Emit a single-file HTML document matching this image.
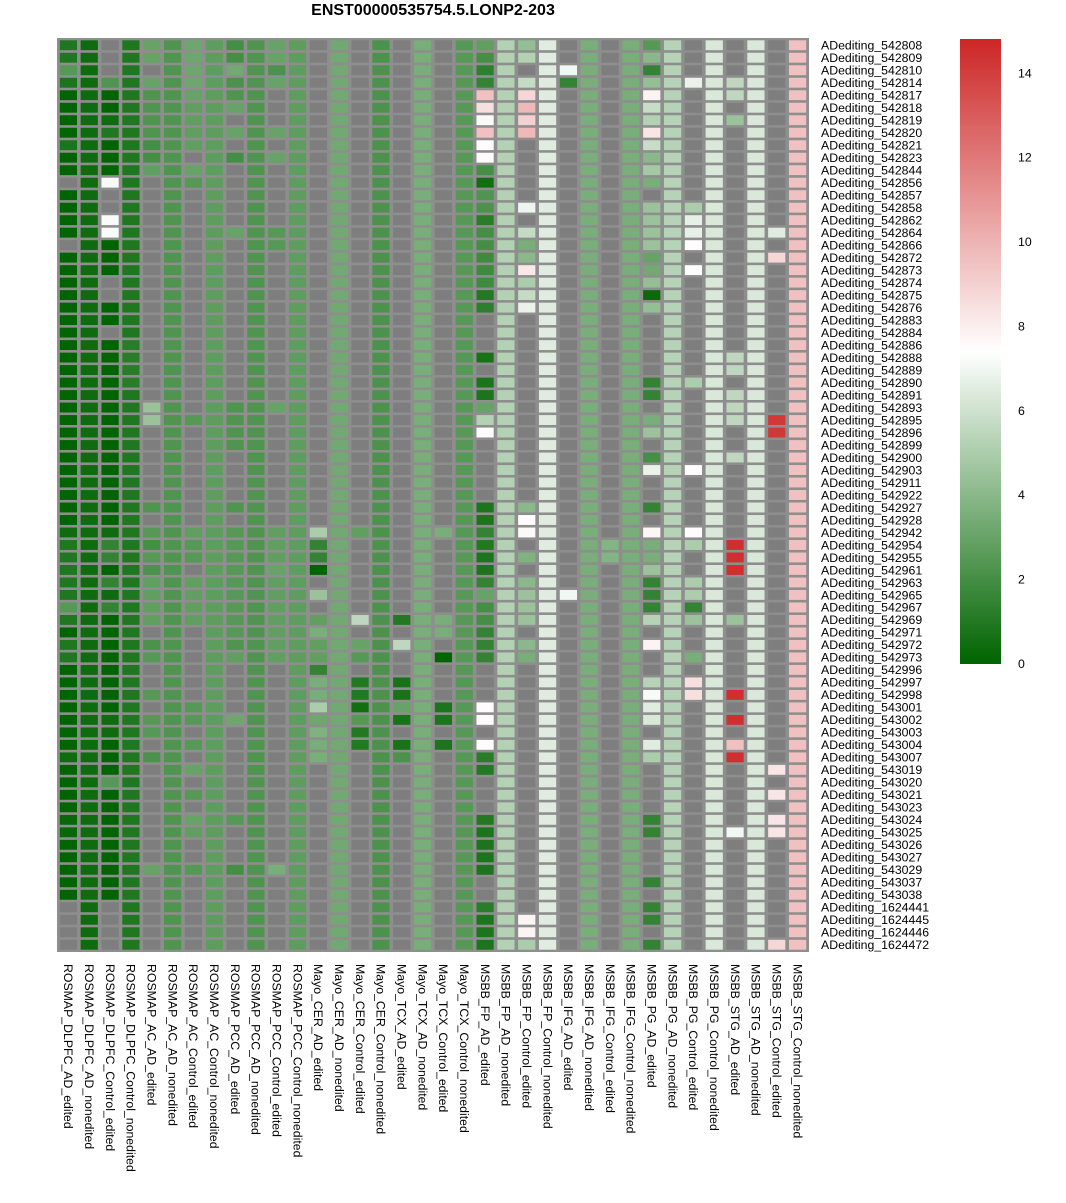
<!DOCTYPE html>
<html><head><meta charset="utf-8"><style>
html,body{margin:0;padding:0;background:#fff;}
svg{display:block;font-family:"Liberation Sans",sans-serif;}
</style></head><body>
<svg id="chart" width="1066" height="1203" viewBox="0 0 1066 1203" xmlns="http://www.w3.org/2000/svg">
<defs><linearGradient id="lg" x1="0" y1="1" x2="0" y2="0">
<stop offset="0" stop-color="#006400"/><stop offset="0.5" stop-color="#ffffff"/><stop offset="1" stop-color="#cd2626"/></linearGradient></defs>
<text x="433" y="15" text-anchor="middle" font-size="16" font-weight="bold">ENST00000535754.5.LONP2-203</text>
<rect x="57" y="38" width="752" height="914" fill="#8e8e8e"/>
<g id="cells"></g><g id="rowlabels"></g><g id="collabels"></g>
<rect x="960" y="39" width="41" height="625" fill="url(#lg)"/>
<g id="legendlabels"></g>
</svg>
<script>
const _ = null;
const rowLabels = ["542808","542809","542810","542814","542817","542818","542819","542820","542821","542823","542844","542856","542857","542858","542862","542864","542866","542872","542873","542874","542875","542876","542883","542884","542886","542888","542889","542890","542891","542893","542895","542896","542899","542900","542903","542911","542922","542927","542928","542942","542954","542955","542961","542963","542965","542967","542969","542971","542972","542973","542996","542997","542998","543001","543002","543003","543004","543007","543019","543020","543021","543023","543024","543025","543026","543027","543029","543037","543038","1624441","1624445","1624446","1624472"].map(s=>"ADediting_"+s);
const colLabels = ["ROSMAP_DLPFC_AD_edited","ROSMAP_DLPFC_AD_nonedited","ROSMAP_DLPFC_Control_edited","ROSMAP_DLPFC_Control_nonedited","ROSMAP_AC_AD_edited","ROSMAP_AC_AD_nonedited","ROSMAP_AC_Control_edited","ROSMAP_AC_Control_nonedited","ROSMAP_PCC_AD_edited","ROSMAP_PCC_AD_nonedited","ROSMAP_PCC_Control_edited","ROSMAP_PCC_Control_nonedited","Mayo_CER_AD_edited","Mayo_CER_AD_nonedited","Mayo_CER_Control_edited","Mayo_CER_Control_nonedited","Mayo_TCX_AD_edited","Mayo_TCX_AD_nonedited","Mayo_TCX_Control_edited","Mayo_TCX_Control_nonedited","MSBB_FP_AD_edited","MSBB_FP_AD_nonedited","MSBB_FP_Control_edited","MSBB_FP_Control_nonedited","MSBB_IFG_AD_edited","MSBB_IFG_AD_nonedited","MSBB_IFG_Control_edited","MSBB_IFG_Control_nonedited","MSBB_PG_AD_edited","MSBB_PG_AD_nonedited","MSBB_PG_Control_edited","MSBB_PG_Control_nonedited","MSBB_STG_AD_edited","MSBB_STG_AD_nonedited","MSBB_STG_Control_edited","MSBB_STG_Control_nonedited"];
const legendTicks = [0,2,4,6,8,10,12,14];
const scaleMax = 14.8;

const col00=[0.9,0.9,2.5,0.8,0,0,0,0,0.8,0, 0,_,0,0,0,0,_,0,0,0, 0,0,0,0,0,0,0,0,0,0, 0,0,0,0,0,0,0,0,0,0.4, 0.9,0.9,0.9,0.9,0.9,2.5,0.9,0,0.9,0.9, 0,0,0,0,0,0,0,0.4,0,0, 0,0,0.2,0.2,0,0,0,0,0,_, _,_,_];
const col01=[0.4,0.4,0.4,0.4,0.4,0.4,0.4,0.4,0.4,0.4, 0.4,0.4,0.4,0.4,0.4,0.4,0.4,0.4,0.4,0.4, 0.4,0.4,0.4,0.4,0.4,0.4,0.4,0.4,0.4,0.4, 0.4,0.4,0.4,0.4,0.4,0.4,0.4,0.4,0.4,0.4, 0.4,0.4,0.4,0.4,0.4,0.4,0.4,0.4,0.4,0.4, 0.4,0.4,0.4,0.4,0.4,0.4,0.4,0.4,0.4,0.4, 0.4,0.4,0.4,0.4,0.4,0.4,0.4,0.4,0.4,0.4, 0.4,0.4,0.4];
const col02=[_,_,_,2.3,0,0,0.4,0.9,0,0, 0,7.2,_,_,7.2,7.2,0,0,0,_, _,0,0,_,0,0,0,0,0,0, 0,0,0,0,0,0,0,0,0,0.4, 1.5,1.5,0,1.5,0.4,1.5,0,0,0,0, 0,0,0,0,0.4,0.4,0,0,0,2.5, 0,0,0,0,0,0,0,0,0,_, _,_,_];
const col03=[0.9,0.9,0.9,0.9,0.9,0.9,0.9,0.9,0.9,0.9, 0.9,0.9,0.9,0.9,0.9,0.9,0.9,0.9,0.9,0.9, 0.9,0.9,0.9,0.9,1.2,1.2,1.2,1.2,0.9,0.9, 0.9,0.9,0.9,0.9,0.9,0.9,0.9,0.9,0.9,0.9, 0.9,0.9,0.9,0.9,0.9,0.9,0.9,0.9,0.9,0.9, 0.9,0.9,0.9,0.9,0.9,0.9,0.9,0.9,0.9,0.9, 0.9,0.9,0.9,0.9,0.9,0.9,0.9,0.9,0.9,0.9, 0.9,0.9,0.9];
const col04=[3,3,_,3,2.3,2.3,2.3,2.3,2,2, 2.8,_,_,_,_,_,_,_,_,_, _,_,_,_,_,_,_,_,_,4.5, 4.5,_,_,_,_,_,_,2.3,_,2.5, 2,2.5,2.2,2.8,2.8,2.8,2.8,_,2.2,2.5, _,_,2.5,_,2.5,2.5,_,2.2,_,_, _,_,_,_,_,_,3,_,_,_, _,_,_];
const col05=[2.3,2.3,2.3,2.3,2.3,2.3,2.3,2.3,2.3,2.3, 2.3,2.3,2.3,2.3,2.3,2.3,2.3,2.3,2.3,2.3, 2.3,2.3,2.3,2.3,2.3,2.3,2.3,2.3,2.3,2.3, 2.3,2.3,2.3,2.3,2.3,2.3,2.3,2.3,2.3,2.3, 2.3,2.3,2.3,2.3,2.3,2.3,2.3,2.3,2.3,2.3, 2.3,2.3,2.3,2.3,2.3,2.3,2.3,2.3,2.3,2.3, 2.3,2.3,2.3,2.3,2.3,2.3,2.3,2.3,2.3,2.3, 2.3,2.3,2.3];
const col06=[3.2,3.2,3.2,3.2,3,2.8,2.8,2.8,2.8,_, 3,2.5,_,_,_,_,_,_,_,_, _,_,_,_,_,_,_,_,_,_, 2.5,_,_,_,_,_,_,_,_,2.8, 2.5,2.5,_,2.8,2.8,2.8,2.8,_,_,_, _,_,_,2.5,2.5,_,2.5,_,3,_, 2.5,_,3,2.8,_,_,2.5,_,_,_, _,_,_];
const col07=[2.7,2.7,2.7,2.7,2.7,2.7,2.7,2.7,2.7,2.7, 2.7,2.7,2.7,2.7,2.7,2.7,2.7,2.7,2.7,2.7, 2.7,2.7,2.7,2.7,2.7,2.7,2.7,2.7,2.7,2.7, 2.7,2.7,2.7,2.7,2.7,2.7,2.7,2.7,2.7,2.7, 2.7,2.7,2.7,2.7,2.7,2.7,2.7,2.7,2.7,2.7, 2.7,2.7,2.7,2.7,2.7,2.7,2.7,2.7,2.7,2.7, 2.7,2.7,2.7,2.7,2.7,2.7,2.7,2.7,2.7,2.7, 2.7,2.7,2.7];
const col08=[2,2,3.3,2.2,2.3,3,_,3,_,2, _,_,_,_,_,3,_,_,_,_, _,_,_,_,_,_,_,_,_,2.3, 2.3,2.3,2.3,_,_,_,_,2.3,_,2.5, 2.5,2.5,2.5,2.5,2.5,2.5,2.5,2.5,2.3,2.8, _,_,_,_,3.2,_,_,_,_,_, _,_,2.5,_,_,_,2,_,_,_, _,_,_];
const col09=[2.3,2.3,2.3,2.3,2.3,2.3,2.3,2.3,2.3,2.3, 2.3,2.3,2.3,2.3,2.3,2.3,2.3,2.3,2.3,2.3, 2.3,2.3,2.3,2.3,2.3,2.3,2.3,2.3,2.3,2.3, 2.3,2.3,2.3,2.3,2.3,2.3,2.3,2.3,2.3,2.3, 2.3,2.3,2.3,2.3,2.3,2.3,2.3,2.3,2.3,2.3, 2.3,2.3,2.3,2.3,2.3,2.3,2.3,2.3,2.3,2.3, 2.3,2.3,2.3,2.3,2.3,2.3,2.3,2.3,2.3,2.3, 2.3,2.3,2.3];
const col10=[3,3,2.2,3,_,_,_,3,_,3, _,_,_,_,_,2.5,2.5,_,_,_, _,_,_,_,_,_,_,_,_,3, _,_,_,_,_,_,_,_,_,2.8, 2.8,2.8,3,2.8,2.8,2.8,2.8,2.8,2.8,2.8, _,_,_,_,_,_,_,_,_,_, _,_,_,_,_,_,3.5,_,_,_, _,_,_];
const col11=[2.7,2.7,2.7,2.7,2.7,2.7,2.7,2.7,2.7,2.7, 2.7,2.7,2.7,2.7,2.7,2.7,2.7,2.7,2.7,2.7, 2.7,2.7,2.7,2.7,2.7,2.7,2.7,2.7,2.7,2.7, 2.7,2.7,2.7,2.7,2.7,2.7,2.7,2.7,2.7,2.7, 2.7,2.7,2.7,2.7,2.7,2.7,2.7,2.7,2.7,2.7, 2.7,2.7,2.7,2.7,2.7,2.7,2.7,2.7,2.7,2.7, 2.7,2.7,2.7,2.7,2.7,2.7,2.7,2.7,2.7,2.7, 2.7,2.7,2.7];
const col12=[_,_,_,_,_,_,_,_,_,_, _,_,_,_,_,_,_,_,_,_, _,_,_,_,_,_,_,_,_,_, _,_,_,_,_,_,_,_,_,5, 1.5,1.5,0,_,4.5,_,2.8,3.5,2.8,2.8, 1.5,3.5,3.5,5,3.2,3.7,3.5,3.5,_,_, _,_,_,_,_,_,_,_,_,_, _,_,_];
const col13=[3.3,3.3,3.3,3.3,3.3,3.3,3.3,3.3,3.3,3.3, 3.3,3.3,3.3,3.3,3.3,3.3,3.3,3.3,3.3,3.3, 3.3,3.3,3.3,3.3,3.3,3.3,3.3,3.3,3.3,3.3, 3.3,3.3,3.3,3.3,3.3,3.3,3.3,3.3,3.3,3.3, 3.3,3.3,3.3,3.3,3.3,3.3,3.3,3.3,3.3,3.3, 3.3,3.3,3.3,3.3,3.3,3.3,3.3,3.3,3.3,3.3, 3.3,3.3,3.3,3.3,3.3,3.3,3.3,3.3,3.3,3.3, 3.3,3.3,3.3];
const col14=[_,_,_,_,_,_,_,_,_,_, _,_,_,_,_,_,_,_,_,_, _,_,_,_,_,_,_,_,_,_, _,_,_,_,_,_,_,_,_,2.8, _,_,_,_,_,_,5.5,_,3,2.5, _,1,1,0.5,2.5,1,1,_,_,_, _,_,_,_,_,_,_,_,_,_, _,_,_];
const col15=[2.2,2.2,2.2,2.2,2.2,2.2,2.2,2.2,2.2,2.2, 2.2,2.2,2.2,2.2,2.2,2.2,2.2,2.2,2.2,2.2, 2.2,2.2,2.2,2.2,2.2,2.2,2.2,2.2,2.2,2.2, 2.2,2.2,2.2,2.2,2.2,2.2,2.2,2.2,2.2,2.2, 2.2,2.2,2.2,2.2,2.2,2.2,2.2,2.2,2.2,2.2, 2.2,2.2,2.2,2.2,2.2,2.2,2.2,2.2,2.2,2.2, 2.2,2.2,2.2,2.2,2.2,2.2,2.2,2.2,2.2,2.2, 2.2,2.2,2.2];
const col16=[_,_,_,_,_,_,_,_,_,_, _,_,_,_,_,_,_,_,_,_, _,_,_,_,_,_,_,_,_,_, _,_,_,_,_,_,_,_,_,_, _,_,_,_,_,_,1,_,5.5,_, _,0.7,0.7,3,0.7,_,0.7,2.2,_,_, _,_,_,_,_,_,_,_,_,_, _,_,_];
const col17=[3.5,3.5,3.5,3.5,3.5,3.5,3.5,3.5,3.5,3.5, 3.5,3.5,3.5,3.5,3.5,3.5,3.5,3.5,3.5,3.5, 3.5,3.5,3.5,3.5,3.5,3.5,3.5,3.5,3.5,3.5, 3.5,3.5,3.5,3.5,3.5,3.5,3.5,3.5,3.5,3.5, 3.5,3.5,3.5,3.5,3.5,3.5,3.5,3.5,3.5,3.5, 3.5,3.5,3.5,3.5,3.5,3.5,3.5,3.5,3.5,3.5, 3.5,3.5,3.5,3.5,3.5,3.5,3.5,3.5,3.5,3.5, 3.5,3.5,3.5];
const col18=[_,_,_,_,_,_,_,_,_,_, _,_,_,_,_,_,_,_,_,_, _,_,_,_,_,_,_,_,_,_, _,_,_,_,_,_,_,_,_,3.5, _,_,_,_,_,_,3.5,3.5,_,0, _,_,_,0.8,0.8,_,0.8,_,_,_, _,_,_,_,_,_,_,_,_,_, _,_,_];
const col19=[2.5,2.5,2.5,2.5,2.5,2.5,2.5,2.5,2.5,2.5, 2.5,2.5,2.5,2.5,2.5,2.5,2.5,2.5,2.5,2.5, 2.5,2.5,2.5,2.5,2.5,2.5,2.5,2.5,2.5,2.5, 2.5,2.5,2.5,2.5,2.5,2.5,2.5,2.5,2.5,2.5, 2.5,2.5,2.5,2.5,2.5,2.5,2.5,2.5,2.5,2.5, 2.5,2.5,2.5,2.5,2.5,2.5,2.5,2.5,2.5,2.5, 2.5,2.5,2.5,2.5,2.5,2.5,2.5,2.5,2.5,2.5, 2.5,2.5,2.5];
const col20=[2.8,2,1.3,1.5,9.5,8.5,7.2,9.5,7.5,7.5, 2,0.5,2.3,2.2,1.2,2,2,1.8,1.8,1.8, 1,1.3,_,_,_,0.7,_,0.8,0.8,3, 5.2,7.5,_,_,_,_,_,0.8,0.8,1.5, 1,0.8,0.8,1.5,3,2,2,1.5,1.5,1.5, _,_,_,7.5,7.5,_,7.5,1.2,1,_, _,_,1,0.8,0.8,0.8,0.8,_,_,1.2, 0.8,0.8,0.8];
const col21=[5.2,5.2,5.2,5.2,5.2,5.2,5.2,5.2,5.2,5.2, 5.2,5.2,5.2,5.2,5.2,5.2,5.2,5.2,5.2,5.2, 5.2,5.2,5.2,5.2,5.2,5.2,5.2,5.2,5.2,5.2, 5.2,5.2,5.2,5.2,5.2,5.2,5.2,5.2,5.2,5.2, 5.2,5.2,5.2,5.2,5.2,5.2,5.2,5.2,5.2,5.2, 5.2,5.2,5.2,5.2,5.2,5.2,5.2,5.2,5.2,5.2, 5.2,5.2,5.2,5.2,5.2,5.2,5.2,5.2,5.2,5.2, 5.2,5.2,5.2];
const col22=[4.3,5.2,_,5.7,8.8,9.8,9,9.8,_,_, _,_,_,6.9,_,5.7,3.5,4,8.2,5, 5.7,6.8,_,_,_,_,_,_,_,_, _,_,_,_,_,_,_,4,7.5,7.6, _,3.7,_,4,4.5,4.5,4.5,_,4,3.5, _,_,_,_,_,_,_,_,_,_, _,_,_,_,_,_,_,_,_,_, 7.8,7.8,5];
const col23=[6.5,6.5,6.5,6.5,6.5,6.5,6.5,6.5,6.5,6.5, 6.5,6.5,6.5,6.5,6.5,6.5,6.5,6.5,6.5,6.5, 6.5,6.5,6.5,6.5,6.5,6.5,6.5,6.5,6.5,6.5, 6.5,6.5,6.5,6.5,6.5,6.5,6.5,6.5,6.5,6.5, 6.5,6.5,6.5,6.5,6.5,6.5,6.5,6.5,6.5,6.5, 6.5,6.5,6.5,6.5,6.5,6.5,6.5,6.5,6.5,6.5, 6.5,6.5,6.5,6.5,6.5,6.5,6.5,6.5,6.5,6.5, 6.5,6.5,6.5];
const col24=[_,_,7,1.5,_,_,_,_,_,_, _,_,_,_,_,_,_,_,_,_, _,_,_,_,_,_,_,_,_,_, _,_,_,_,_,_,_,_,_,_, _,_,_,_,7,_,_,_,_,_, _,_,_,_,_,_,_,_,_,_, _,_,_,_,_,_,_,_,_,_, _,_,_];
const col25=[3.5,3.5,3.5,3.5,3.5,3.5,3.5,3.5,3.5,3.5, 3.5,3.5,3.5,3.5,3.5,3.5,3.5,3.5,3.5,3.5, 3.5,3.5,3.5,3.5,3.5,3.5,3.5,3.5,3.5,3.5, 3.5,3.5,3.5,3.5,3.5,3.5,3.5,3.5,3.5,3.5, 3.5,3.5,3.5,3.5,3.5,3.5,3.5,3.5,3.5,3.5, 3.5,3.5,3.5,3.5,3.5,3.5,3.5,3.5,3.5,3.5, 3.5,3.5,3.5,3.5,3.5,3.5,3.5,3.5,3.5,3.5, 3.5,3.5,3.5];
const col26=[_,_,_,_,_,_,_,_,_,_, _,_,_,_,_,_,_,_,_,_, _,_,_,_,_,_,_,_,_,_, _,_,_,_,_,_,_,_,_,_, 3.8,3.8,_,_,_,_,_,_,_,_, _,_,_,_,_,_,_,_,_,_, _,_,_,_,_,_,_,_,_,_, _,_,_];
const col27=[3.5,3.5,3.5,3.5,3.5,3.5,3.5,3.5,3.5,3.5, 3.5,3.5,3.5,3.5,3.5,3.5,3.5,3.5,3.5,3.5, 3.5,3.5,3.5,3.5,3.5,3.5,3.5,3.5,3.5,3.5, 3.5,3.5,3.5,3.5,3.5,3.5,3.5,3.5,3.5,3.5, 3.5,3.5,3.5,3.5,3.5,3.5,3.5,3.5,3.5,3.5, 3.5,3.5,3.5,3.5,3.5,3.5,3.5,3.5,3.5,3.5, 3.5,3.5,3.5,3.5,3.5,3.5,3.5,3.5,3.5,3.5, 3.5,3.5,3.5];
const col28=[2.5,4,1.5,4.3,7.8,5.8,5.2,8.3,5.8,4, 4.8,3.5,_,4.5,4.5,4.5,4.5,3,3.3,4.3, 0.3,4.3,_,_,_,_,_,1.5,1.5,_, 3.5,4.5,_,2,6.8,_,_,1.5,_,7.7, 3.5,3.5,4.5,1.5,1.5,1.5,5.3,_,7.8,_, _,5.3,7.2,6.5,6.3,_,6.5,5,_,_, _,_,1.5,1.5,_,_,_,1.5,_,1.5, 1.5,_,1.5];
const col29=[5.3,5.3,5.3,5.3,5.3,5.3,5.3,5.3,5.3,5.3, 5.3,5.3,5.3,5.3,5.3,5.3,5.3,5.3,5.3,5.3, 5.3,5.3,5.3,5.3,5.3,5.3,5.3,5.3,5.3,5.3, 5.3,5.3,5.3,5.3,5.3,5.3,5.3,5.3,5.3,5.3, 5.3,5.3,5.3,5.3,5.3,5.3,5.3,5.3,5.3,5.3, 5.3,5.3,5.3,5.3,5.3,5.3,5.3,5.3,5.3,5.3, 5.3,5.3,5.3,5.3,5.3,5.3,5.3,5.3,5.3,5.3, 5.3,5.3,5.3];
const col30=[_,_,_,6.8,_,_,_,_,_,_, _,_,_,5,6.7,6.7,7.5,_,7.3,_, _,_,_,_,_,_,_,5,_,_, _,_,_,_,7.5,_,_,_,_,7.5, 5,_,_,5,5,1.5,4.5,_,_,3.5, _,8.5,8.5,_,_,_,_,_,_,_, _,_,_,_,_,_,_,_,_,_, _,_,_];
const col31=[6.3,6.3,6.3,6.3,6.3,6.3,6.3,6.3,6.3,6.3, 6.3,6.3,6.3,6.3,6.3,6.3,6.3,6.3,6.3,6.3, 6.3,6.3,6.3,6.3,6.3,6.3,6.3,6.3,6.3,6.3, 6.3,6.3,6.3,6.3,6.3,6.3,6.3,6.3,6.3,6.3, 6.3,6.3,6.3,6.3,6.3,6.3,6.3,6.3,6.3,6.3, 6.3,6.3,6.3,6.3,6.3,6.3,6.3,6.3,6.3,6.3, 6.3,6.3,6.3,6.3,6.3,6.3,6.3,6.3,6.3,6.3, 6.3,6.3,6.3];
const col32=[_,_,_,5.5,5.5,_,4.5,_,_,_, _,_,_,_,_,_,_,_,_,_, _,_,_,_,_,5.5,5.5,_,5.5,5.5, 5.5,_,_,5.5,_,_,_,_,_,_, 14.5,14.5,14.5,_,_,_,4.5,_,_,_, _,_,14.5,_,14.5,_,9.5,14.5,_,_, _,_,_,7,_,_,_,_,_,_, _,_,_];
const col33=[6.3,6.3,6.3,6.3,6.3,6.3,6.3,6.3,6.3,6.3, 6.3,6.3,6.3,6.3,6.3,6.3,6.3,6.3,6.3,6.3, 6.3,6.3,6.3,6.3,6.3,6.3,6.3,6.3,6.3,6.3, 6.3,6.3,6.3,6.3,6.3,6.3,6.3,6.3,6.3,6.3, 6.3,6.3,6.3,6.3,6.3,6.3,6.3,6.3,6.3,6.3, 6.3,6.3,6.3,6.3,6.3,6.3,6.3,6.3,6.3,6.3, 6.3,6.3,6.3,6.3,6.3,6.3,6.3,6.3,6.3,6.3, 6.3,6.3,6.3];
const col34=[_,_,_,_,_,_,_,_,_,_, _,_,_,_,_,6.5,_,8.8,_,_, _,_,_,_,_,_,_,_,_,_, 14.2,14.2,_,_,_,_,_,_,_,_, _,_,_,_,_,_,_,_,_,_, _,_,_,_,_,_,_,_,8.3,_, 8.3,_,8.3,8.3,_,_,_,_,_,_, _,_,8.8];
const col35=[9.5,9.5,9.5,9.5,9.5,9.5,9.5,9.5,9.5,9.5, 9.5,9.5,9.5,9.5,9.5,9.5,9.5,9.5,9.5,9.5, 9.5,9.5,9.5,9.5,9.5,9.5,9.5,9.5,9.5,9.5, 9.5,9.5,9.5,9.5,9.5,9.5,9.5,9.5,9.5,9.5, 9.5,9.5,9.5,9.5,9.5,9.5,9.5,9.5,9.5,9.5, 9.5,9.5,9.5,9.5,9.5,9.5,9.5,9.5,9.5,9.5, 9.5,9.5,9.5,9.5,9.5,9.5,9.5,9.5,9.5,9.5, 9.5,9.5,9.5];
const columns=[col00,col01,col02,col03,col04,col05,col06,col07,col08,col09,col10,col11,col12,col13,col14,col15,col16,col17,col18,col19,col20,col21,col22,col23,col24,col25,col26,col27,col28,col29,col30,col31,col32,col33,col34,col35];

const NS="http://www.w3.org/2000/svg";
const X0=58,X1=808,Y0=39,Y1=951;
const cw=(X1-X0)/colLabels.length, rh=(Y1-Y0)/rowLabels.length;
const xScale=i=>X0+i*cw, yScale=j=>Y0+j*rh;
const legY=v=>663.5-(v/scaleMax)*624.5;
function color(v){
  if(v===null||v===undefined) return "#7e7e7e";
  const mid=scaleMax/2; let a,b,t;
  if(v<=mid){a=[0,100,0];b=[255,255,255];t=v/mid;} else {a=[255,255,255];b=[205,38,38];t=Math.min(1,(v-mid)/(scaleMax-mid));}
  const c=a.map((x,k)=>Math.round(x+(b[k]-x)*t));
  return `rgb(${c[0]},${c[1]},${c[2]})`;
}
const gc=document.getElementById('cells');
columns.forEach((col,i)=>{col.forEach((v,j)=>{
  const r=document.createElementNS(NS,'rect');
  r.setAttribute('x',(xScale(i)+1.8).toFixed(2));
  r.setAttribute('y',(yScale(j)+1.3).toFixed(2));
  r.setAttribute('width',(cw-3.6).toFixed(2));
  r.setAttribute('height',(rh-2.6).toFixed(2));
  r.setAttribute('fill',color(v));
  
  
  gc.appendChild(r);
});});
const gr=document.getElementById('rowlabels');
rowLabels.forEach((s,j)=>{
  const t=document.createElementNS(NS,'text');
  t.setAttribute('x',821);t.setAttribute('y',(yScale(j)+rh/2+4.3).toFixed(2));
  t.setAttribute('font-size','12.3');t.textContent=s;
  
  
  gr.appendChild(t);
});
const gcl=document.getElementById('collabels');
colLabels.forEach((s,i)=>{
  const cx=xScale(i)+cw/2-4.3;
  const t=document.createElementNS(NS,'text');
  t.setAttribute('transform',`translate(${cx.toFixed(2)},964) rotate(90)`);
  t.setAttribute('font-size','12.3');t.textContent=s;
  
  
  gcl.appendChild(t);
});
const gl=document.getElementById('legendlabels');
legendTicks.forEach(v=>{
  const t=document.createElementNS(NS,'text');
  t.setAttribute('x',1018);t.setAttribute('y',(legY(v)+4.5).toFixed(2));
  t.setAttribute('font-size','12.3');t.textContent=v;
  
  
  gl.appendChild(t);
});
</script>
</body></html>
